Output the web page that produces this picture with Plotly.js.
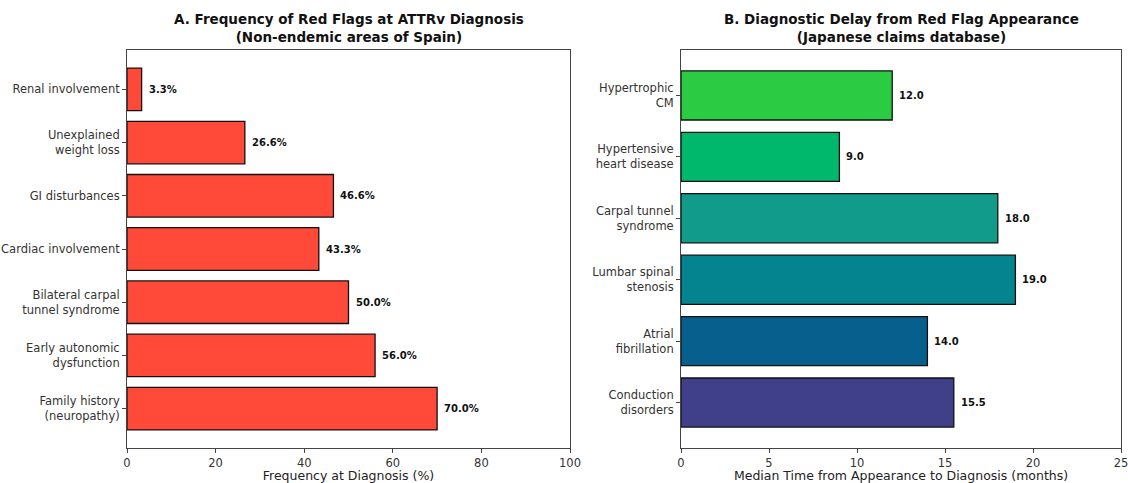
<!DOCTYPE html>
<html>
<head>
<meta charset="utf-8">
<script src="https://cdn.plot.ly/plotly-3.0.1.min.js"></script>
<style>
  html, body { margin: 0; padding: 0; background: #fff; }
  #chart { width: 1128px; height: 483px; }
</style>
</head>
<body>
<div id="chart"></div>
<script>
// Panel A: red-flag frequency at ATTRv diagnosis (bottom to top)
const flagsA = [
  "Family history<br>(neuropathy)",
  "Early autonomic<br>dysfunction",
  "Bilateral carpal<br>tunnel syndrome",
  "Cardiac involvement",
  "GI disturbances",
  "Unexplained<br>weight loss",
  "Renal involvement"
];
const freqA = [70.0, 56.0, 50.0, 43.3, 46.6, 26.6, 3.3];
const colorA = "#ff4a3a";

// Panel B: median diagnostic delay in months (bottom to top)
const flagsB = [
  "Conduction<br>disorders",
  "Atrial<br>fibrillation",
  "Lumbar spinal<br>stenosis",
  "Carpal tunnel<br>syndrome",
  "Hypertensive<br>heart disease",
  "Hypertrophic<br>CM"
];
const delayB = [15.5, 14.0, 19.0, 18.0, 9.0, 12.0];
const colorsB = ["#403f8a", "#065f8c", "#03848f", "#119b8a", "#00b86c", "#2bcc44"];

const FONT = "DejaVu Sans, Verdana, sans-serif";
const AXCOL = "#444";

const traces = [
  {
    type: "bar", orientation: "h",
    x: freqA, y: flagsA,
    xaxis: "x", yaxis: "y",
    width: 0.8,
    marker: { color: colorA, line: { color: "#111", width: 1.3 } },
    hoverinfo: "skip", showlegend: false
  },
  {
    type: "bar", orientation: "h",
    x: delayB, y: flagsB,
    xaxis: "x2", yaxis: "y2",
    width: 0.8,
    marker: { color: colorsB, line: { color: "#111", width: 1.3 } },
    hoverinfo: "skip", showlegend: false
  }
];

const valueLabels = [];
freqA.forEach((v, i) => valueLabels.push({
  x: v, y: flagsA[i], xref: "x", yref: "y",
  text: "<b>" + v.toFixed(1) + "%</b>", showarrow: false,
  xanchor: "left", xshift: 5, font: { family: FONT, size: 10, color: "#111" }
}));
delayB.forEach((v, i) => valueLabels.push({
  x: v, y: flagsB[i], xref: "x2", yref: "y2",
  text: "<b>" + v.toFixed(1) + "</b>", showarrow: false,
  xanchor: "left", xshift: 5, font: { family: FONT, size: 10, color: "#111" }
}));

const titles = [
  { x: (127 + 570) / 2 / 1128, text: "<b>A. Frequency of Red Flags at ATTRv Diagnosis<br>(Non-endemic areas of Spain)</b>" },
  { x: (681 + 1121) / 2 / 1128, text: "<b>B. Diagnostic Delay from Red Flag Appearance<br>(Japanese claims database)</b>" }
].map(t => ({
  x: t.x, y: 1, xref: "paper", yref: "paper", xanchor: "center", yanchor: "bottom", yshift: 3,
  text: t.text, showarrow: false, align: "center",
  font: { family: FONT, size: 13.5, color: "#111" }
}));

function xAxis(domain, range, dtick, title, anchor) {
  return {
    domain: domain, range: range, dtick: dtick, anchor: anchor,
    showline: true, mirror: true, linecolor: AXCOL, linewidth: 1,
    ticks: "outside", ticklen: 4, tickcolor: AXCOL,
    showgrid: false, zeroline: false, fixedrange: true,
    ticklabeloverflow: "allow",
    tickfont: { family: FONT, size: 11.5, color: "#333" },
    title: { text: title, font: { family: FONT, size: 12.5, color: "#222" }, standoff: 4 }
  };
}
function yAxis(cats, range, anchor) {
  return {
    domain: [0, 1], type: "category", categoryorder: "array", categoryarray: cats,
    range: range, anchor: anchor,
    showline: true, mirror: true, linecolor: AXCOL, linewidth: 1,
    ticks: "outside", ticklen: 4, tickcolor: AXCOL,
    showgrid: false, zeroline: false, fixedrange: true,
    tickfont: { family: FONT, size: 11.5, color: "#333" }
  };
}

const layout = {
  width: 1128, height: 483,
  margin: { l: 0, r: 0, t: 50, b: 35 },
  paper_bgcolor: "#fff", plot_bgcolor: "#fff",
  bargap: 0.2,
  xaxis: xAxis([127 / 1128, 570 / 1128], [0, 100], 20, "Frequency at Diagnosis (%)", "y"),
  yaxis: yAxis(flagsA, [-0.74, 6.74], "x"),
  xaxis2: xAxis([681 / 1128, 1121 / 1128], [0, 25], 5, "Median Time from Appearance to Diagnosis (months)", "y2"),
  yaxis2: yAxis(flagsB, [-0.74, 5.74], "x2"),
  annotations: valueLabels.concat(titles)
};

Plotly.newPlot("chart", traces, layout, { displayModeBar: false, staticPlot: true });
</script>
</body>
</html>
